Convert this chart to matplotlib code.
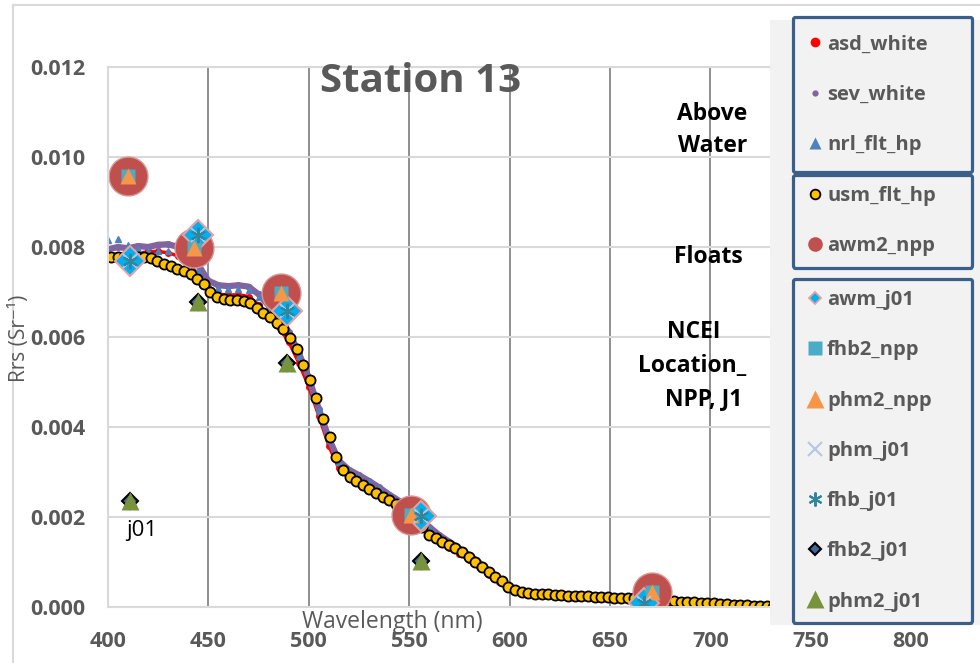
import numpy as np
import matplotlib
matplotlib.use("Agg")
import matplotlib.pyplot as plt
from matplotlib.lines import Line2D
from matplotlib.patches import Rectangle

plt.rcParams['font.family'] = ['Open Sans', 'DejaVu Sans']

# --- data ---
usm_flt_hp = [0.00778, 0.00778, 0.00778, 0.00777, 0.00778, 0.00777, 0.00775, 0.00769, 0.00763, 0.00758,
              0.00752, 0.00746, 0.00739, 0.00729, 0.00717, 0.00700, 0.00689, 0.00685, 0.00683, 0.00682,
              0.00680, 0.00676, 0.00665, 0.00654, 0.00644, 0.00632, 0.00618, 0.00598, 0.00573, 0.00538,
              0.00504, 0.00465, 0.00418, 0.00377, 0.00334, 0.00305, 0.00290, 0.00280, 0.00272, 0.00263,
              0.00253, 0.00245, 0.00237, 0.00228, 0.00219, 0.00208, 0.00196, 0.00178, 0.00160, 0.00153,
              0.00145, 0.00138, 0.00131, 0.00122, 0.00112, 0.00100, 0.00089, 0.00077, 0.00066, 0.00057,
              0.00045, 0.00038, 0.00034, 0.00031, 0.00030, 0.00029, 0.00028, 0.00027, 0.00026, 0.00025,
              0.00025, 0.00024, 0.00024, 0.00023, 0.00022, 0.00022, 0.00021, 0.00020, 0.00020, 0.00019,
              0.00018, 0.00017, 0.00016, 0.00015, 0.00014, 0.00013, 0.00012, 0.00011, 0.00011, 0.00010,
              0.00009, 0.00008, 0.00007, 0.00006, 0.00005, 0.00004, 0.00004, 0.00003, 0.00002, 0.00002,
              0.00001, 0.00001]
usm_wl = np.linspace(401.5, 734.8, len(usm_flt_hp))

wl5 = np.arange(400, 731, 5)
sev_white = [0.00795, 0.00800, 0.00797, 0.00802, 0.00800, 0.00805, 0.00806, 0.00800, 0.00790, 0.00760,
             0.00725, 0.00715, 0.00713, 0.00715, 0.00712, 0.00695, 0.00670, 0.00645, 0.00612, 0.00565,
             0.00510, 0.00440, 0.00375, 0.00325, 0.00305, 0.00293, 0.00280, 0.00266, 0.00250, 0.00236,
             0.00220, 0.00200, 0.00178, 0.00160, 0.00145, 0.00130, 0.00115, 0.00098, 0.00080, 0.00062,
             0.00045, 0.00037, 0.00033, 0.00031, 0.00030, 0.00028, 0.00027, 0.00026, 0.00025, 0.00024,
             0.00023, 0.00022, 0.00021, 0.00019, 0.00018, 0.00016, 0.00015, 0.00013, 0.00012, 0.00011,
             0.00009, 0.00008, 0.00006, 0.00005, 0.00004, 0.00003, 0.00002]
nrl_flt_hp = [0.00815, 0.00818, 0.00805, 0.00795, 0.00792, 0.00790, 0.00790, 0.00786, 0.00775, 0.00748,
              0.00718, 0.00708, 0.00706, 0.00707, 0.00705, 0.00688, 0.00664, 0.00638, 0.00605, 0.00558,
              0.00505, 0.00437, 0.00372, 0.00322, 0.00302, 0.00290, 0.00278, 0.00264, 0.00248, 0.00234,
              0.00218, 0.00198, 0.00176, 0.00158, 0.00143, 0.00128, 0.00113, 0.00096, 0.00078, 0.00060,
              0.00044, 0.00036, 0.00032, 0.00030, 0.00029, 0.00028, 0.00027, 0.00026, 0.00025, 0.00024,
              0.00023, 0.00022, 0.00020, 0.00019, 0.00017, 0.00016, 0.00014, 0.00013, 0.00012, 0.00010,
              0.00009, 0.00007, 0.00006, 0.00005, 0.00004, 0.00003, 0.00002]
asd_white = [0.00776, 0.00778, 0.00780, 0.00785, 0.00790, 0.00790, 0.00787, 0.00780, 0.00765, 0.00738,
             0.00705, 0.00695, 0.00693, 0.00694, 0.00690, 0.00672, 0.00648, 0.00622, 0.00590, 0.00543,
             0.00490, 0.00425, 0.00358, 0.00308, 0.00286, 0.00275, 0.00262, 0.00249, 0.00234, 0.00220,
             0.00204, 0.00183, 0.00160, 0.00145, 0.00132, 0.00118, 0.00104, 0.00088, 0.00071, 0.00055,
             0.00040, 0.00033, 0.00030, 0.00029, 0.00028, 0.00026, 0.00025, 0.00024, 0.00023, 0.00022,
             0.00021, 0.00020, 0.00019, 0.00018, 0.00016, 0.00015, 0.00013, 0.00012, 0.00011, 0.00009,
             0.00008, 0.00007, 0.00005, 0.00004, 0.00003, 0.00002, 0.00001]

npp_wl = [410, 443, 486, 551, 671]
awm2_npp = [0.00958, 0.00798, 0.00698, 0.00204, 0.00033]
fhb2_npp = [0.00958, 0.00798, 0.00698, 0.00204, 0.00033]
phm2_npp = [0.00958, 0.00798, 0.00698, 0.00204, 0.00033]

j01_wl = [411, 445, 489, 556, 667]
awm_j01 = [0.00769, 0.00827, 0.00658, 0.00202, 0.00010]
phm_j01 = [0.00769, 0.00827, 0.00658, 0.00202, 0.00010]
fhb_j01 = [0.00769, 0.00827, 0.00658, 0.00202, 0.00010]

j01b_wl = [411, 445, 489, 556]
fhb2_j01 = [0.00236, 0.00678, 0.00542, 0.00102]
phm2_j01 = [0.00236, 0.00678, 0.00542, 0.00102]

GRAY = '#595959'

fig = plt.figure(figsize=(9.8, 6.63), dpi=100)
ax = fig.add_axes([108 / 980, 1 - 607 / 663, 803 / 980, 540 / 663])

ax.plot(wl5, asd_white, color='#ff0000', marker='o', ms=4, lw=2.5, zorder=2)
ax.plot(wl5, sev_white, color='#8064a2', marker='o', ms=4, lw=4.5, zorder=2)
ax.plot(wl5, nrl_flt_hp, color='#4f81bd', marker='^', ms=5, ls='none', zorder=2)
ax.plot(usm_wl, usm_flt_hp, ls='none', marker='o', ms=7.3, mfc='#ffc000', mec='black', mew=1.3, zorder=2)
ax.plot(npp_wl, awm2_npp, ls='none', marker='o', ms=28, mfc='#c0504d', mec='#d99694', mew=1, zorder=2)
ax.plot(j01_wl, awm_j01, ls='none', marker='D', ms=15, mfc='#00b0f0', mec='#e6a0a0', mew=1.5, zorder=2)
ax.plot(npp_wl, fhb2_npp, ls='none', marker='s', ms=9.5, mfc='#4bacc6', mec='none', zorder=2)
ax.plot(npp_wl, phm2_npp, ls='none', marker='^', ms=12, mfc='#f79646', mec='none', zorder=2)
ax.plot(j01_wl, phm_j01, ls='none', marker='x', ms=10, mec='#b4c7e7', mew=1.5, zorder=2)
ax.plot(j01_wl, fhb_j01, ls='none', marker=(6, 2, 0), ms=11, mec='#31859c', mew=1.5, zorder=2)
ax.plot(j01b_wl, fhb2_j01, ls='none', marker='D', ms=8, mfc='#41679b', mec='black', mew=1.5, zorder=2)
ax.plot(j01b_wl, phm2_j01, ls='none', marker='^', ms=13, mfc='#77933c', mec='none', zorder=2)

ax.text(409, 0.00158, 'j01', fontsize=16, color='black', ha='left', va='baseline')

ax.set_xlim(400, 800)
ax.set_ylim(0, 0.012)
ax.set_xticks(range(400, 801, 50))
ax.set_yticks(np.arange(0, 0.0121, 0.002))
ax.set_yticklabels(['%.3f' % v for v in np.arange(0, 0.0121, 0.002)])
ax.tick_params(length=0, labelsize=15.5, labelcolor=GRAY)
ax.tick_params(axis='y', pad=16)
ax.tick_params(axis='x', pad=17)
for lab in ax.get_xticklabels() + ax.get_yticklabels():
    lab.set_fontweight('bold')
ax.yaxis.grid(True, color='#d9d9d9', lw=1.5)
ax.xaxis.grid(True, color='#868686', lw=1.3)
ax.get_xgridlines()[0].set_visible(False)
ax.set_axisbelow(True)
for s in ['left', 'bottom', 'top']:
    ax.spines[s].set_color('#d9d9d9')
    ax.spines[s].set_linewidth(1.5)
ax.spines['right'].set_visible(False)

# chart border lines
fig.add_artist(Line2D([13 / 980, 13 / 980], [0, 1 - 5 / 663], color='#d9d9d9', lw=1.5))
fig.add_artist(Line2D([13 / 980, 1], [1 - 5 / 663, 1 - 5 / 663], color='#d9d9d9', lw=1.5))

fig.text(421 / 980, 1 - 92 / 663, 'Station 13', fontsize=29, fontweight='bold', color=GRAY,
         ha='center', va='baseline')
fig.text(392 / 980, 1 - 628 / 663, 'Wavelength (nm)', fontsize=16.5, color=GRAY,
         ha='center', va='baseline')
fig.text(19 / 980, 1 - 338 / 663, 'Rrs (Sr⁻¹)', fontsize=15, color=GRAY,
         rotation=90, ha='center', va='center')

fig.text(747 / 980, 1 - 120 / 663, 'Above', fontsize=16.5, fontweight='bold', ha='right', va='baseline')
fig.text(747 / 980, 1 - 152 / 663, 'Water', fontsize=16.5, fontweight='bold', ha='right', va='baseline')
fig.text(743 / 980, 1 - 263 / 663, 'Floats', fontsize=16.5, fontweight='bold', ha='right', va='baseline')
fig.text(694 / 980, 1 - 338 / 663, 'NCEI', fontsize=16.5, fontweight='bold', ha='center', va='baseline')
fig.text(692 / 980, 1 - 372 / 663, 'Location_', fontsize=16.5, fontweight='bold', ha='center', va='baseline')
fig.text(704 / 980, 1 - 405 / 663, 'NPP, J1', fontsize=16.5, fontweight='bold', ha='center', va='baseline')

# legend panel
fig.add_artist(Rectangle((770 / 980, 1 - 625 / 663), 210 / 980, 605 / 663,
                         transform=fig.transFigure, facecolor='#f2f2f2', edgecolor='none', zorder=4))


def h(**kw):
    return Line2D([], [], ls='none', **kw)


groups = [
    ([h(marker='o', ms=7, mfc='#ff0000', mec='none'),
      h(marker='o', ms=4.5, mfc='#8064a2', mec='none'),
      h(marker='^', ms=9, mfc='#4f81bd', mec='none')],
     ['asd_white', 'sev_white', 'nrl_flt_hp'], (17, 173), 0.87),
    ([h(marker='o', ms=7, mfc='#ffc000', mec='black', mew=1.3),
      h(marker='o', ms=10.5, mfc='#c0504d', mec='none')],
     ['usm_flt_hp', 'awm2_npp'], (175, 268), 0.56),
    ([h(marker='D', ms=6.5, mfc='#00b0f0', mec='#e6a0a0', mew=1.3),
      h(marker='s', ms=10, mfc='#4bacc6', mec='none'),
      h(marker='^', ms=13, mfc='#f79646', mec='none'),
      h(marker='x', ms=10, mec='#b4c7e7', mew=1.5),
      h(marker=(6, 2, 0), ms=10, mec='#31859c', mew=1.5),
      h(marker='D', ms=6.5, mfc='#41679b', mec='black', mew=1.5),
      h(marker='^', ms=13, mfc='#77933c', mec='none')],
     ['awm_j01', 'fhb2_npp', 'phm2_npp', 'phm_j01', 'fhb_j01', 'fhb2_j01', 'phm2_j01'], (279, 623), 0.56),
]

FS = 14.5
fs_px = FS * 100 / 72
for handles, labels, (top, bot), bp in groups:
    pad = bp * fs_px
    hl = 2 * (22 - pad) / fs_px
    htp = (34 - pad - hl * fs_px) / fs_px
    leg = fig.legend(handles, labels, loc='upper left', mode='expand',
                     bbox_to_anchor=(793 / 980, 1 - bot / 663, 179 / 980, (bot - top) / 663),
                     borderaxespad=0, borderpad=bp, labelspacing=1.5, handlelength=hl,
                     handletextpad=htp, numpoints=1, frameon=True, fancybox=True,
                     prop={'size': FS, 'weight': 'bold'}, labelcolor=GRAY)
    fr = leg.get_frame()
    fr.set_boxstyle('round', pad=0, rounding_size=0.12)
    fr.set_edgecolor('#3a5f8b')
    fr.set_linewidth(2.3)
    fr.set_facecolor('#f2f2f2')
    fr.set_alpha(1)
    leg.set_zorder(6)

fig.savefig('out.png', dpi=100)
